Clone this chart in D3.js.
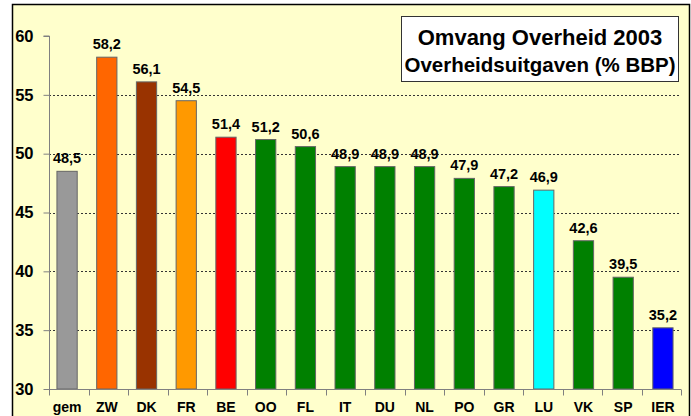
<!DOCTYPE html>
<html>
<head>
<meta charset="utf-8">
<script src="https://cdn.jsdelivr.net/npm/d3@7"></script>
<style>
  body { margin: 0; background: #ffffff; }
  text { font-family: "Liberation Sans", Arial, sans-serif; font-weight: bold; }
</style>
</head>
<body>
<svg class="bar-chart"></svg>
<script>
// data
let categories = ["gem", "ZW", "DK", "FR", "BE", "OO", "FL", "IT", "DU", "NL", "PO", "GR", "LU", "VK", "SP", "IER"];
let values = [48.5, 58.2, 56.1, 54.5, 51.4, 51.2, 50.6, 48.9, 48.9, 48.9, 47.9, 47.2, 46.9, 42.6, 39.5, 35.2];
let barColors = ["#999999", "#FF6600", "#993300", "#FF9900", "#FF0000", "#008000", "#008000", "#008000",
                 "#008000", "#008000", "#008000", "#008000", "#00FFFF", "#008000", "#008000", "#0000FF"];
let yTicks = [30, 35, 40, 45, 50, 55, 60];
let titleLines = ["Omvang Overheid 2003", "Overheidsuitgaven (% BBP)"];

let width = 691, height = 416;

let svg = d3.select(".bar-chart")
    .attr("width", width)
    .attr("height", height);

// background panel
svg.append("rect")
    .attr("x", 12.5).attr("y", 4.5)
    .attr("width", 677).attr("height", 420)
    .attr("fill", "#FFFFCC")
    .attr("stroke", "#000000")
    .attr("stroke-width", 1.5);

let yScale = d3.scaleLinear()
    .domain([30, 60])
    .range([389, 36]);

let xScale = d3.scaleBand()
    .domain(categories)
    .range([49, 681])
    .paddingInner(0.49)
    .paddingOuter(0.2);

// grid lines
svg.append("g")
    .selectAll("line")
    .data(yTicks.filter(d => d > 30 && d < 60))
    .enter().append("line")
    .attr("x1", 49).attr("x2", 681)
    .attr("y1", d => Math.round(yScale(d)) + 0.5)
    .attr("y2", d => Math.round(yScale(d)) + 0.5)
    .attr("stroke", "#333333")
    .attr("stroke-dasharray", "2,2");

// bars
svg.append("g")
    .selectAll("rect")
    .data(values)
    .enter().append("rect")
    .attr("x", (d, i) => xScale(categories[i]))
    .attr("y", d => yScale(d))
    .attr("width", xScale.bandwidth())
    .attr("height", d => yScale(30) - yScale(d))
    .attr("fill", (d, i) => barColors[i])
    .attr("stroke", "#666666")
    .attr("stroke-width", 1);

// value labels
svg.append("g")
    .selectAll("text")
    .data(values)
    .enter().append("text")
    .attr("x", (d, i) => xScale(categories[i]) + xScale.bandwidth() / 2)
    .attr("y", d => yScale(d) - 8)
    .attr("text-anchor", "middle")
    .style("font-size", "14.5px")
    .style("fill", "#000000")
    .text(d => d.toFixed(1).replace(".", ","));

// y axis
let yAxis = d3.axisLeft(yScale)
    .tickValues(yTicks)
    .tickSize(6)
    .tickPadding(10)
    .tickFormat(d => d);

let yG = svg.append("g")
    .attr("transform", "translate(49.5,0)")
    .call(yAxis);
yG.select(".domain").attr("stroke", "#808080").attr("d", "M-6," + yScale(60) + "H0V" + yScale(30));
yG.selectAll(".tick line").attr("stroke", "#808080");
yG.selectAll(".tick text")
    .style("font-size", "16.5px")
    .style("font-family", "'Liberation Sans', Arial, sans-serif")
    .style("font-weight", "bold")
    .style("fill", "#000000");

// x axis
let xAxis = d3.axisBottom(xScale)
    .tickSize(0)
    .tickFormat(d => d);

let xG = svg.append("g")
    .attr("transform", "translate(0," + (yScale(30) + 0.5) + ")")
    .call(xAxis);
xG.select(".domain").attr("stroke", "#808080").attr("d", "M49,0H681");
xG.selectAll(".tick text")
    .attr("y", 22.5)
    .attr("dy", null)
    .style("font-size", "14px")
    .style("font-family", "'Liberation Sans', Arial, sans-serif")
    .style("font-weight", "bold")
    .style("fill", "#000000");

// small ticks between categories
let boundaries = d3.range(categories.length + 1).map(i => 49 + (681 - 49) * i / categories.length);
xG.selectAll(".sep")
    .data(boundaries)
    .enter().append("line")
    .attr("x1", d => Math.round(d) + 0.5)
    .attr("x2", d => Math.round(d) + 0.5)
    .attr("y1", 0).attr("y2", 6)
    .attr("stroke", "#808080");

// title box
let title = svg.append("g");
title.append("rect")
    .attr("x", 401.5).attr("y", 16.5)
    .attr("width", 277).attr("height", 65)
    .attr("fill", "#FFFFFF")
    .attr("stroke", "#333333")
    .attr("stroke-width", 1);
title.selectAll("text")
    .data(titleLines)
    .enter().append("text")
    .attr("x", 540)
    .attr("y", (d, i) => i === 0 ? 45 : 72)
    .attr("text-anchor", "middle")
    .style("font-size", (d, i) => i === 0 ? "22px" : "20.5px")
    .style("fill", "#000000")
    .text(d => d);
</script>
</body>
</html>
